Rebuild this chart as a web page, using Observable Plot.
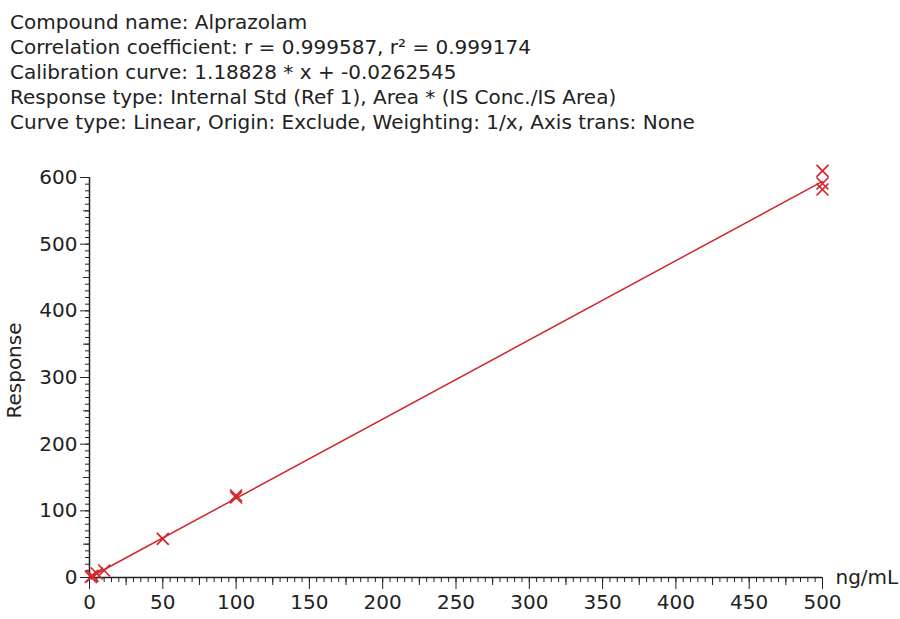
<!DOCTYPE html>
<html><head><meta charset="utf-8">
<script src="https://cdn.jsdelivr.net/npm/d3@7"></script>
<script src="https://cdn.jsdelivr.net/npm/@observablehq/plot@0.6"></script>
<style>
html,body{margin:0;padding:0;background:#fff;}
body{width:900px;height:619px;position:relative;overflow:hidden;font-family:"DejaVu Sans",Verdana,sans-serif;}
#hdr{position:absolute;left:10px;top:10px;font-size:20px;line-height:25px;color:#222;white-space:nowrap;}
#chart{position:absolute;left:0;top:140px;}
</style></head><body>
<div id="hdr"></div><div id="chart"></div>
<script>
const headerLines = [
  "Compound name: Alprazolam",
  "Correlation coefficient: r = 0.999587, r\u00B2 = 0.999174",
  "Calibration curve: 1.18828 * x + -0.0262545",
  "Response type: Internal Std (Ref 1), Area * (IS Conc./IS Area)",
  "Curve type: Linear, Origin: Exclude, Weighting: 1/x, Axis trans: None"
];
const concentrations = [1, 2, 5, 10, 50, 100, 100, 500, 500, 500];
const responses = [1.0, 2.5, 6.0, 10.5, 58, 120, 123, 582, 591, 610];
const slope = 1.18828, intercept = -0.0262545;
const curveX = [1, 500];
const xTicks = [0, 50, 100, 150, 200, 250, 300, 350, 400, 450, 500];
const yTicks = [0, 100, 200, 300, 400, 500, 600];
const xUnit = "ng/mL";
const yTitle = "Response";

document.getElementById("hdr").innerHTML = headerLines.map(s => `<div>${s}</div>`).join("");

const points = concentrations.map((c, i) => ({x: c, y: responses[i]}));
const curve = curveX.map(x => ({x, y: slope * x + intercept}));
const xMinor = d3.range(0, 501, 5);
const xMid = d3.range(25, 500, 50);
const yMinor = d3.range(0, 601, 10);
const yMid = d3.range(50, 600, 100);
const red = "#d3262d";
const ink = "#222";
const blank = () => "";

const plot = Plot.plot({
  width: 900, height: 479,
  marginLeft: 89, marginRight: 78, marginTop: 37, marginBottom: 42,
  style: {fontFamily: "'DejaVu Sans', Verdana, sans-serif", color: ink, background: "#fff"},
  x: {domain: [0, 500]},
  y: {domain: [0, 600]},
  marks: [
    Plot.axisX(xMinor, {tickSize: 5, tickFormat: blank, label: null, stroke: ink}),
    Plot.axisX(xMid, {tickSize: 8, tickFormat: blank, label: null, stroke: ink}),
    Plot.axisX(xTicks, {tickSize: 12, tickPadding: 5, fontSize: 20, label: null, stroke: ink, fill: ink}),
    Plot.axisY(yMinor, {tickSize: 4, tickFormat: blank, label: null, stroke: ink}),
    Plot.axisY(yMid, {tickSize: 6, tickFormat: blank, label: null, stroke: ink}),
    Plot.axisY(yTicks, {tickSize: 9, tickPadding: 3, fontSize: 20, label: null, stroke: ink, fill: ink}),
    Plot.ruleY([0], {stroke: ink, strokeWidth: 1.5}),
    Plot.ruleX([0], {stroke: ink, strokeWidth: 1.5}),
    Plot.line(curve, {x: "x", y: "y", stroke: red, strokeWidth: 1.5}),
    Plot.dot(points, {x: "x", y: "y", symbol: "times", r: 5.5, stroke: red, strokeWidth: 1.7}),
    Plot.text([xUnit], {x: 500, y: 0, text: d => d, textAnchor: "start", dx: 13, fontSize: 20, fill: ink}),
    Plot.text([yTitle], {frameAnchor: "left", text: d => d, textAnchor: "middle", rotate: -90, dx: -75, dy: -7, fontSize: 20, fill: ink})
  ]
});
document.getElementById("chart").appendChild(plot);
</script>
</body></html>
